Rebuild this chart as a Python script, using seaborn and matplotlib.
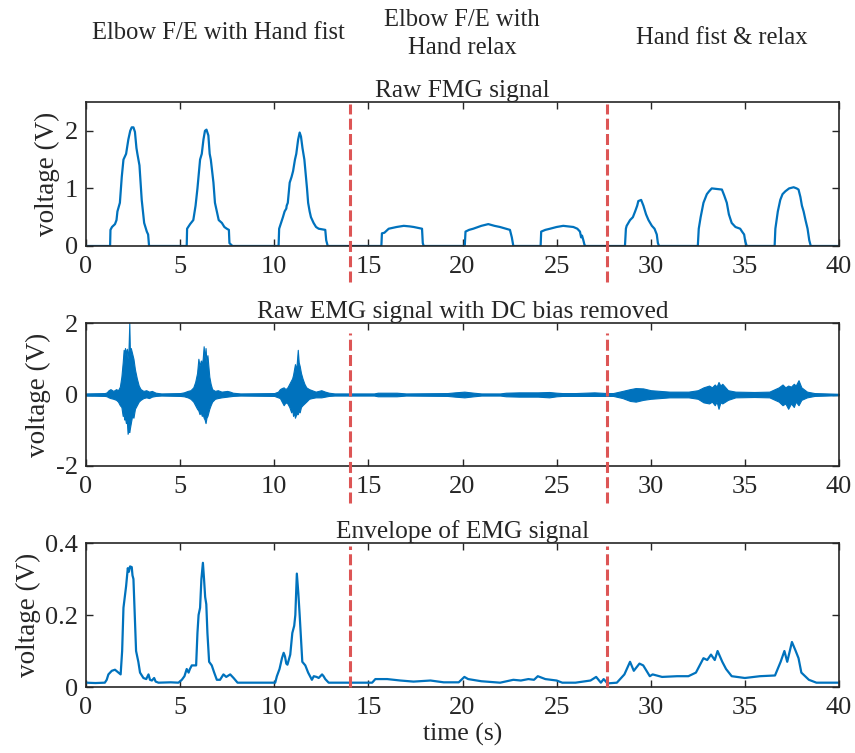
import matplotlib
matplotlib.use("Agg")
import matplotlib.pyplot as plt
import seaborn as sns

# ---- Raw FMG signal (time s, voltage V), one line per bump
fmg_t = [0.0,
         1.28, 1.30, 1.38, 1.54, 1.62, 1.67, 1.80, 1.90, 1.99, 2.13, 2.25, 2.35, 2.43, 2.52, 2.60, 2.68, 2.73, 2.84, 2.90, 2.96, 3.09, 3.23, 3.30, 3.35,
         5.35, 5.37, 5.53, 5.70, 5.82, 5.92, 6.06, 6.15, 6.24, 6.32, 6.40, 6.50, 6.57, 6.63, 6.77, 6.85, 6.95, 7.05, 7.22, 7.35, 7.48, 7.59, 7.62, 7.78,
         10.23, 10.26, 10.46, 10.55, 10.64, 10.66, 10.72, 10.82, 10.92, 11.00, 11.10, 11.17, 11.27, 11.35, 11.42, 11.50, 11.60, 11.74, 11.80, 11.88, 11.95, 12.09, 12.22, 12.36, 12.71, 12.76, 12.84,
         15.69, 15.72, 15.85, 16.08, 16.50, 16.88, 17.20, 17.41, 17.85, 17.89, 17.94,
         20.12, 20.16, 20.35, 20.57, 21.00, 21.37, 21.70, 21.99, 22.30, 22.52, 22.62, 22.70,
         24.15, 24.18, 24.40, 24.65, 25.00, 25.35, 25.60, 25.89, 26.10, 26.24, 26.30, 26.35, 26.42, 26.48, 26.54,
         28.63, 28.68, 28.72, 28.90, 29.05, 29.17, 29.28, 29.34, 29.49, 29.55, 29.61, 29.75, 29.88, 30.06, 30.20, 30.32, 30.38, 30.44,
         32.50, 32.55, 32.65, 32.80, 32.98, 33.10, 33.24, 33.50, 33.78, 33.90, 34.04, 34.15, 34.30, 34.50, 34.75, 34.85, 34.96, 35.02, 35.10,
         36.58, 36.62, 36.75, 36.88, 37.00, 37.15, 37.35, 37.59, 37.75, 37.85, 37.95, 38.03, 38.12, 38.22, 38.33, 38.42, 38.50,
         40.0]
fmg_v = [0.0,
         0, 0.28, 0.33, 0.38, 0.45, 0.60, 0.75, 1.20, 1.50, 1.60, 1.85, 2.00, 2.06, 2.06, 1.98, 1.70, 1.60, 1.40, 1.10, 0.80, 0.40, 0.25, 0.20, 0,
         0, 0.30, 0.38, 0.45, 0.70, 1.00, 1.50, 1.60, 1.85, 2.00, 2.02, 1.92, 1.60, 1.50, 1.10, 0.75, 0.60, 0.45, 0.40, 0.33, 0.30, 0.28, 0.05, 0,
         0, 0.30, 0.50, 0.60, 0.65, 0.70, 0.75, 1.10, 1.20, 1.30, 1.50, 1.60, 1.85, 1.97, 1.90, 1.70, 1.50, 1.00, 0.75, 0.60, 0.50, 0.40, 0.33, 0.30, 0.28, 0.10, 0,
         0, 0.22, 0.23, 0.30, 0.33, 0.35, 0.34, 0.33, 0.30, 0.05, 0,
         0, 0.25, 0.28, 0.30, 0.35, 0.38, 0.35, 0.33, 0.30, 0.28, 0.15, 0,
         0, 0.25, 0.28, 0.30, 0.33, 0.35, 0.34, 0.33, 0.30, 0.25, 0.15, 0.18, 0.10, 0.02, 0,
         0, 0.30, 0.35, 0.45, 0.50, 0.60, 0.70, 0.78, 0.80, 0.75, 0.70, 0.55, 0.45, 0.35, 0.30, 0.20, 0.05, 0,
         0, 0.30, 0.50, 0.75, 0.90, 0.95, 1.00, 0.99, 0.98, 0.88, 0.75, 0.55, 0.40, 0.33, 0.30, 0.25, 0.20, 0.08, 0,
         0, 0.30, 0.60, 0.80, 0.90, 0.95, 1.00, 1.02, 1.00, 0.98, 0.85, 0.70, 0.60, 0.45, 0.30, 0.10, 0,
         0.0]

# ---- Raw EMG signal: upper and lower extent of the oscillation
emg_t = [0.0,
         1.0, 1.1, 1.2, 1.3, 1.45, 1.6, 1.7, 1.8, 1.88, 1.95,
         2.0, 2.03, 2.07, 2.12, 2.17, 2.21, 2.26, 2.3, 2.33, 2.38,
         2.45, 2.52, 2.6, 2.7, 2.8, 2.9, 3.05, 3.2, 3.35, 3.5,
         3.7, 4.0,
         5.0, 5.2, 5.4, 5.55, 5.7, 5.8, 5.9, 5.97, 6.03, 6.1,
         6.15, 6.2, 6.25, 6.3, 6.35, 6.4, 6.45, 6.5, 6.55, 6.62,
         6.7, 6.85, 7.0, 7.2, 7.5, 7.65, 7.8, 8.2,
         10.0, 10.2, 10.3, 10.4, 10.5, 10.6, 10.7, 10.8, 10.9, 10.95,
         11.0, 11.05, 11.1, 11.17, 11.25, 11.3, 11.35, 11.42, 11.5, 11.6,
         11.7, 11.85, 12.0, 12.2, 12.5, 12.7, 12.9, 13.2,
         15.3, 15.5, 16.5, 17.0, 19.2, 19.6, 20.1, 20.6, 21.0,
         22.0, 22.3, 23.0, 24.0, 24.6, 25.0, 25.3, 26.0, 27.0, 27.7,
         28.0, 28.5, 28.9, 29.2, 29.6, 30.0, 31.0, 32.0, 32.5, 32.8,
         33.1, 33.25, 33.4, 33.5, 33.6, 33.7, 33.8, 34.1, 34.5, 35.5, 36.3, 36.8,
         37.0, 37.15, 37.3, 37.45, 37.6, 37.7, 37.85, 38.0, 38.3, 38.7, 40.0]
emg_hi = [0.03,
          0.04, 0.06, 0.12, 0.15, 0.10, 0.15, 0.12, 0.22, 0.50, 0.90,
          1.25, 0.95, 1.30, 1.15, 1.28, 1.00, 1.30, 2.00, 1.25, 1.30,
          1.15, 1.00, 0.70, 0.45, 0.25, 0.15, 0.10, 0.12, 0.08, 0.10,
          0.05, 0.03,
          0.04, 0.06, 0.10, 0.12, 0.20, 0.35, 0.60, 1.00, 0.80, 0.95,
          0.85, 1.00, 1.35, 1.00, 1.30, 0.90, 1.10, 0.80, 0.50, 0.30,
          0.15, 0.10, 0.12, 0.08, 0.10, 0.08, 0.05, 0.03,
          0.04, 0.08, 0.15, 0.18, 0.20, 0.15, 0.20, 0.30, 0.40, 0.45,
          0.55, 0.70, 0.85, 0.70, 1.25, 0.90, 0.80, 0.60, 0.45, 0.30,
          0.20, 0.15, 0.12, 0.08, 0.12, 0.08, 0.05, 0.03,
          0.03, 0.05, 0.05, 0.03, 0.04, 0.06, 0.08, 0.05, 0.03,
          0.03, 0.05, 0.06, 0.06, 0.07, 0.05, 0.04, 0.04, 0.06, 0.04,
          0.04, 0.10, 0.15, 0.18, 0.17, 0.12, 0.08, 0.08, 0.12, 0.20,
          0.25, 0.20, 0.28, 0.22, 0.35, 0.25, 0.30, 0.12, 0.08, 0.07, 0.08, 0.20,
          0.28, 0.20, 0.25, 0.22, 0.30, 0.25, 0.40, 0.20, 0.08, 0.04, 0.02]
emg_lo = [-0.03,
          -0.04, -0.05, -0.08, -0.10, -0.12, -0.15, -0.20, -0.30, -0.35, -0.60,
          -0.55, -0.70, -0.65, -0.80, -0.75, -1.10, -1.00, -1.05, -0.95, -0.80,
          -0.60, -0.65, -0.40, -0.30, -0.20, -0.15, -0.10, -0.08, -0.10, -0.06,
          -0.04, -0.03,
          -0.04, -0.05, -0.08, -0.12, -0.20, -0.30, -0.40, -0.45, -0.55, -0.50,
          -0.60, -0.55, -0.65, -0.70, -0.80, -0.65, -0.60, -0.50, -0.40, -0.30,
          -0.20, -0.12, -0.10, -0.08, -0.06, -0.05, -0.04, -0.03,
          -0.04, -0.08, -0.10, -0.20, -0.30, -0.22, -0.25, -0.35, -0.50, -0.40,
          -0.60, -0.50, -0.65, -0.55, -0.55, -0.45, -0.50, -0.35, -0.30, -0.25,
          -0.20, -0.12, -0.10, -0.08, -0.08, -0.06, -0.04, -0.03,
          -0.03, -0.05, -0.05, -0.03, -0.04, -0.06, -0.08, -0.05, -0.03,
          -0.03, -0.05, -0.06, -0.06, -0.08, -0.05, -0.04, -0.04, -0.04, -0.04,
          -0.04, -0.10, -0.18, -0.20, -0.15, -0.12, -0.08, -0.08, -0.12, -0.22,
          -0.25, -0.20, -0.30, -0.20, -0.40, -0.22, -0.25, -0.15, -0.08, -0.07, -0.08, -0.20,
          -0.30, -0.25, -0.40, -0.25, -0.35, -0.20, -0.30, -0.15, -0.08, -0.04, -0.02]

# ---- Envelope of EMG signal
env_t = [0.0, 0.5, 1.0, 1.1, 1.19, 1.37, 1.54, 1.72, 1.84, 1.92,
         1.99, 2.13, 2.22, 2.28, 2.34, 2.43, 2.47, 2.52, 2.59, 2.66,
         2.78, 2.87, 3.05, 3.20, 3.32, 3.40, 3.50, 3.62, 3.70, 3.85,
         4.5, 4.91, 5.09, 5.23, 5.35, 5.45, 5.52, 5.62, 5.85, 5.92,
         5.98, 6.06, 6.13, 6.21, 6.27, 6.33, 6.39, 6.45, 6.54, 6.68,
         6.81, 6.95, 7.12, 7.30, 7.45, 7.66, 7.84, 8.05, 9.0, 10.05,
         10.14, 10.28, 10.41, 10.50, 10.57, 10.64, 10.70, 10.85, 10.96, 11.06,
         11.12, 11.20, 11.28, 11.35, 11.49, 11.57, 11.65, 11.80, 11.90, 12.00,
         12.10, 12.25, 12.36, 12.54, 12.62, 12.71, 12.89, 14.0, 15.2, 15.37,
         16.0, 16.7, 17.4, 18.3, 19.0, 19.8, 20.1, 20.3, 21.0, 22.0,
         22.7, 23.1, 23.5, 23.8, 24.0, 24.4, 25.0, 25.3, 26.0, 26.8,
         27.1, 27.35, 27.5, 27.7, 28.2, 28.6, 28.9, 29.1, 29.4, 29.6,
         29.95, 30.1, 30.6, 31.4, 32.0, 32.4, 32.6, 32.8, 33.0, 33.2,
         33.4, 33.55, 33.8, 34.0, 34.3, 35.0, 35.8, 36.6, 36.9, 37.1,
         37.25, 37.5, 37.7, 37.85, 38.0, 38.4, 38.8, 40.0]
env_v = [0.012, 0.011, 0.012, 0.02, 0.035, 0.045, 0.048, 0.04, 0.035, 0.10,
         0.22, 0.28, 0.33, 0.32, 0.335, 0.333, 0.31, 0.30, 0.20, 0.10,
         0.07, 0.04, 0.025, 0.022, 0.035, 0.02, 0.018, 0.025, 0.015, 0.012,
         0.013, 0.012, 0.02, 0.03, 0.05, 0.04, 0.05, 0.06, 0.06, 0.15,
         0.20, 0.22, 0.30, 0.345, 0.30, 0.25, 0.23, 0.15, 0.07, 0.06,
         0.04, 0.02, 0.02, 0.035, 0.028, 0.035, 0.025, 0.012, 0.012, 0.012,
         0.03, 0.05, 0.08, 0.095, 0.085, 0.065, 0.062, 0.09, 0.15, 0.17,
         0.20, 0.315, 0.26, 0.20, 0.07, 0.065, 0.06, 0.04, 0.03, 0.02,
         0.03, 0.028, 0.025, 0.035, 0.03, 0.022, 0.012, 0.012, 0.012, 0.022,
         0.022, 0.018, 0.015, 0.018, 0.013, 0.013, 0.028, 0.022, 0.016, 0.012,
         0.02, 0.018, 0.022, 0.02, 0.03, 0.022, 0.018, 0.012, 0.012, 0.018,
         0.028, 0.012, 0.022, 0.01, 0.012, 0.035, 0.07, 0.045, 0.065, 0.06,
         0.03, 0.035, 0.028, 0.03, 0.03, 0.04, 0.06, 0.08, 0.075, 0.09,
         0.075, 0.10, 0.07, 0.05, 0.03, 0.025, 0.03, 0.032, 0.07, 0.10,
         0.07, 0.125, 0.10, 0.08, 0.04, 0.02, 0.012, 0.012]

phase_bounds = [14.0, 27.7]
phase_names = ["Elbow F/E with Hand fist", "Elbow F/E with\nHand relax", "Hand fist & relax"]
titles = ["Raw FMG signal", "Raw EMG signal with DC bias removed", "Envelope of EMG signal"]

blue = "#0072BD"
red = "#DD5555"

sns.set_theme(style="ticks", rc={
    "xtick.direction": "in", "ytick.direction": "in",
    "xtick.top": True, "ytick.right": True,
    "axes.edgecolor": "#262626", "axes.linewidth": 1.2,
    "xtick.color": "#262626", "ytick.color": "#262626",
})
plt.rcParams["font.family"] = ["Liberation Serif", "DejaVu Serif"]

fig = plt.figure(figsize=(8.55, 7.53), dpi=100)
W, H = 855, 753
boxes = [(102, 246), (323, 466), (543, 687)]
axes = []
for top, bot in boxes:
    axes.append(fig.add_axes([86 / W, 1 - bot / H, (839 - 86) / W, (bot - top) / H]))

ax1, ax2, ax3 = axes

sns.lineplot(x=fmg_t, y=fmg_v, ax=ax1, color=blue, linewidth=1.6, estimator=None, sort=False)
ax1.set_ylim(0, 2.5)
ax1.set_yticks([0, 1, 2])

ax2.fill_between(emg_t, emg_lo, emg_hi, color=blue, linewidth=0.8, edgecolor=blue)
sns.lineplot(x=[0, 40], y=[0, 0], ax=ax2, color=blue, linewidth=1.2, estimator=None)
ax2.set_ylim(-2, 2)
ax2.set_yticks([-2, 0, 2])
ax2.set_yticklabels(["-2", "0", "2"])

sns.lineplot(x=env_t, y=env_v, ax=ax3, color=blue, linewidth=1.6, estimator=None, sort=False)
ax3.set_ylim(0, 0.4)
ax3.set_yticks([0, 0.2, 0.4])
ax3.set_yticklabels(["0", "0.2", "0.4"])

# dashed phase separators (the upper two run past the axes as in the source)
spans = [(-0.25, 0.985), (-0.26, 0.93), (0.0, 0.98)]
for ax, title, (lo, hi) in zip(axes, titles, spans):
    for b in phase_bounds:
        ax.axvline(b, ymin=lo, ymax=hi, color=red, linewidth=2.2,
                   dashes=(3.6, 1.4), clip_on=False, zorder=5)
    ax.set_xlim(0, 40)
    ax.set_xticks(range(0, 41, 5))
    ax.set_title(title, fontsize=18.3, pad=3)
    ax.set_ylabel("voltage (V)", fontsize=19.5, labelpad=3)
    ax.tick_params(labelsize=19, length=5, width=1.0)
    ax.tick_params(axis="x", pad=7)
    ax.tick_params(axis="y", pad=6)
    for s in ax.spines.values():
        s.set_visible(True)

ax3.set_xlabel("time (s)", fontsize=18.5, labelpad=3)

fig.text(218 / W, 1 - 33 / H, phase_names[0], fontsize=17.7, ha="center", va="center")
fig.text(462 / W, 1 - 34 / H, phase_names[1], fontsize=17.7, ha="center", va="center",
         linespacing=1.3)
fig.text(722 / W, 1 - 38 / H, phase_names[2], fontsize=17.7, ha="center", va="center")

fig.savefig("out.png", dpi=100)
